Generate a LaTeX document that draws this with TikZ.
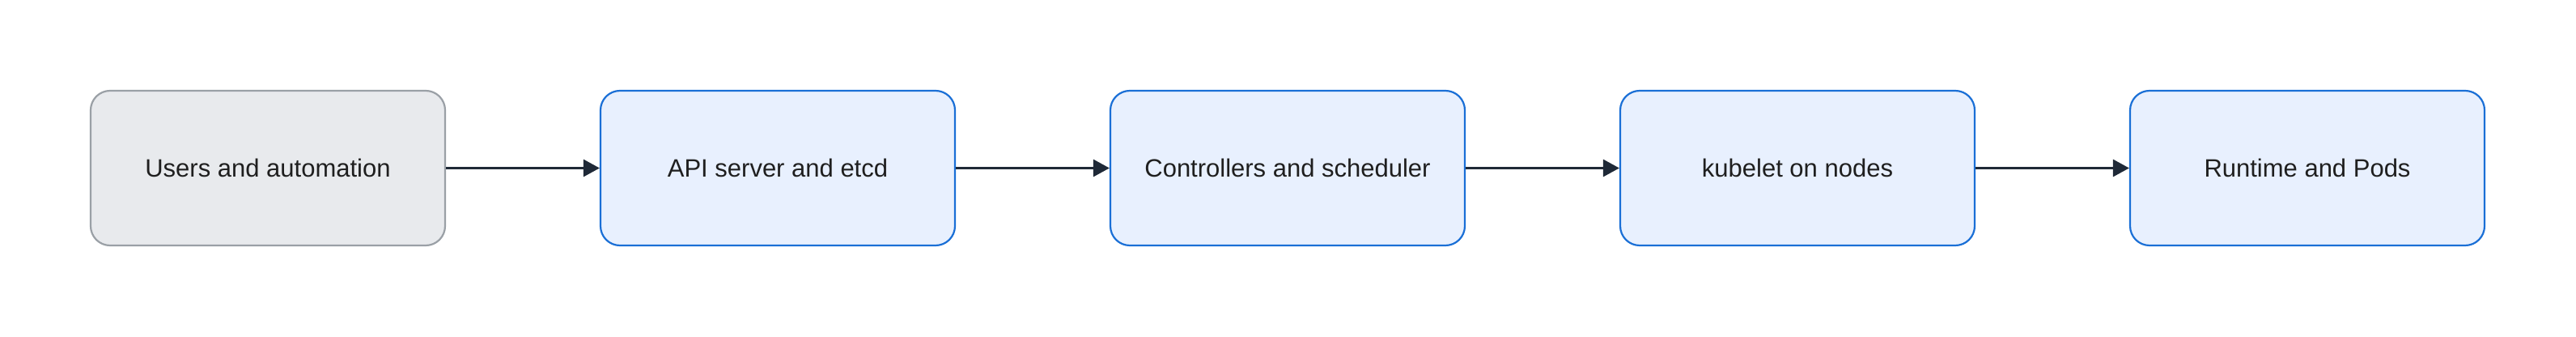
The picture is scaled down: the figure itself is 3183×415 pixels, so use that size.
\documentclass[tikz,border=0pt]{standalone}
\usepackage{fontspec}
\setmainfont{Liberation Sans}
\usetikzlibrary{arrows.meta}
\definecolor{grayfill}{HTML}{E8EAED}
\definecolor{grayline}{HTML}{9AA0A6}
\definecolor{bluefill}{HTML}{E8F0FE}
\definecolor{blueline}{HTML}{1A6FD6}
\definecolor{arrowcol}{HTML}{1F2937}
\tikzset{
  box/.style={draw, line width=2.2pt, rounded corners=24pt, minimum width=438pt, minimum height=191pt, inner sep=0pt, font=\fontsize{31}{37}\selectfont, text=black!88},
  graybox/.style={box, fill=grayfill, draw=grayline},
  bluebox/.style={box, fill=bluefill, draw=blueline},
  conn/.style={draw=arrowcol, line width=3pt, -{Triangle[length=20pt,width=21pt]}}
}
\begin{document}
\begin{tikzpicture}[x=1pt,y=1pt]
\useasboundingbox (0,0) rectangle (3183,415);
\node[graybox] (u) at (331,207.5) {Users and automation};
\node[bluebox] (a) at (961,207.5) {API server and etcd};
\node[bluebox] (c) at (1591,207.5) {Controllers and scheduler};
\node[bluebox] (k) at (2221,207.5) {kubelet on nodes};
\node[bluebox] (r) at (2851,207.5) {Runtime and Pods};
\draw[conn] (u) -- (a);
\draw[conn] (a) -- (c);
\draw[conn] (c) -- (k);
\draw[conn] (k) -- (r);
\end{tikzpicture}
\end{document}
